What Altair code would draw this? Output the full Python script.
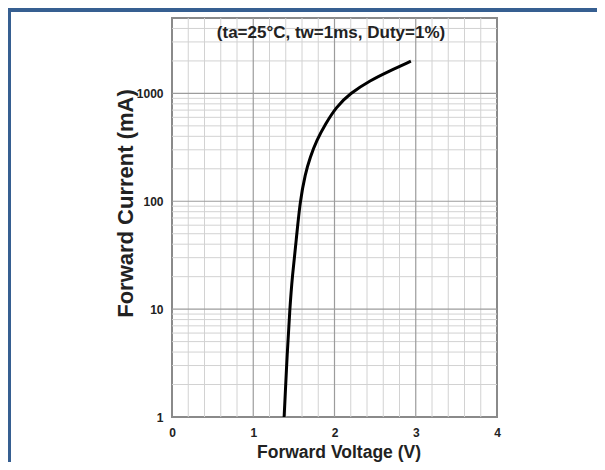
import altair as alt
import pandas as pd

# Curve
volts = [1.38, 1.42, 1.45, 1.48, 1.53, 1.575, 1.64, 1.70, 1.78, 1.89, 2.02, 2.19, 2.44, 2.68, 2.94]
currents = [1, 4.2, 10, 20, 44, 99, 180, 256, 367, 523, 747, 1000, 1320, 1620, 1990]

x_ticks = [0, 1, 2, 3, 4]
y_ticks = [1, 10, 100, 1000]
x_minor = [0.2, 0.4, 0.6, 0.8, 1.2, 1.4, 1.6, 1.8, 2.2, 2.4, 2.6, 2.8, 3.2, 3.4, 3.6, 3.8]
y_minor = [2, 3, 4, 5, 6, 7, 8, 9, 20, 30, 40, 50, 60, 70, 80, 90,
           200, 300, 400, 500, 600, 700, 800, 900, 2000, 3000, 4000]
title_text = "(ta=25°C, tw=1ms, Duty=1%)"

W, H = 325, 399
FONT = "Liberation Sans"

xs = alt.Scale(domain=[0, 4], nice=False, zero=False)
ys = alt.Scale(type="log", domain=[1, 5000], nice=False)

x_axis = alt.Axis(values=x_ticks, title="Forward Voltage (V)", grid=False,
                  ticks=False, domain=False, labelFont=FONT, labelFontWeight="bold",
                  labelFontSize=12, labelColor="#222", labelPadding=10, labelFlush=False,
                  titleFont=FONT, titleFontWeight="bold", titleFontSize=17.5,
                  titleColor="#222", titleY=35, titleBaseline="middle",
                  titleX=W / 2 + 4)
y_axis = alt.Axis(values=y_ticks, format="d", title="Forward Current (mA)",
                  grid=False, ticks=False, domain=False, labelFont=FONT,
                  labelFontWeight="bold", labelFontSize=12, labelColor="#222",
                  labelPadding=9, labelFlush=False,
                  titleFont=FONT, titleFontWeight="bold", titleFontSize=22,
                  titleColor="#222", titleX=-47, titleY=185,
                  titleBaseline="middle")

curve_df = pd.DataFrame({"V": volts, "I": currents})
xmin_df = pd.DataFrame({"V": x_minor})
xmaj_df = pd.DataFrame({"V": x_ticks[1:-1]})
ymin_df = pd.DataFrame({"I": y_minor})
ymaj_df = pd.DataFrame({"I": y_ticks[1:]})

grid_minor_color = "#d2d2d2"
grid_major_color = "#9c9c9c"

vmin = alt.Chart(xmin_df).mark_rule(color=grid_minor_color, strokeWidth=1).encode(
    x=alt.X("V:Q", scale=xs, axis=x_axis))
vmaj = alt.Chart(xmaj_df).mark_rule(color=grid_major_color, strokeWidth=1.2).encode(
    x=alt.X("V:Q", scale=xs, axis=x_axis))
hmin = alt.Chart(ymin_df).mark_rule(color=grid_minor_color, strokeWidth=1).encode(
    y=alt.Y("I:Q", scale=ys, axis=y_axis))
hmaj = alt.Chart(ymaj_df).mark_rule(color=grid_major_color, strokeWidth=1.2).encode(
    y=alt.Y("I:Q", scale=ys, axis=y_axis))

curve = alt.Chart(curve_df).mark_line(
    color="black", strokeWidth=3, interpolate="basis"
).encode(
    x=alt.X("V:Q", scale=xs, axis=x_axis),
    y=alt.Y("I:Q", scale=ys, axis=y_axis),
)

title_df = pd.DataFrame({"t": [title_text]})
title = alt.Chart(title_df).mark_text(
    font=FONT, fontWeight="bold", fontSize=17, color="#222",
    align="center", baseline="middle"
).encode(x=alt.value(159), y=alt.value(15), text="t:N")

border_color = "#365f91"
top_band = alt.Chart(pd.DataFrame({"a": [0]})).mark_rect(color=border_color).encode(
    x=alt.value(-164), x2=alt.value(W + 100), y=alt.value(-10), y2=alt.value(-6))
left_band = alt.Chart(pd.DataFrame({"a": [0]})).mark_rect(color=border_color).encode(
    x=alt.value(-164), x2=alt.value(-161), y=alt.value(-10), y2=alt.value(H + 45))

chart = alt.layer(vmin, hmin, vmaj, hmaj, curve, title, top_band, left_band).properties(
    width=W, height=H,
    autosize=alt.AutoSizeParams(type="none"),
    padding={"left": 164, "top": 10, "right": 100, "bottom": 45},
    background="white",
).configure_view(stroke="#8a8a8a", strokeWidth=2)

chart.save("out.html", embed_options={"renderer": "svg", "actions": False})
